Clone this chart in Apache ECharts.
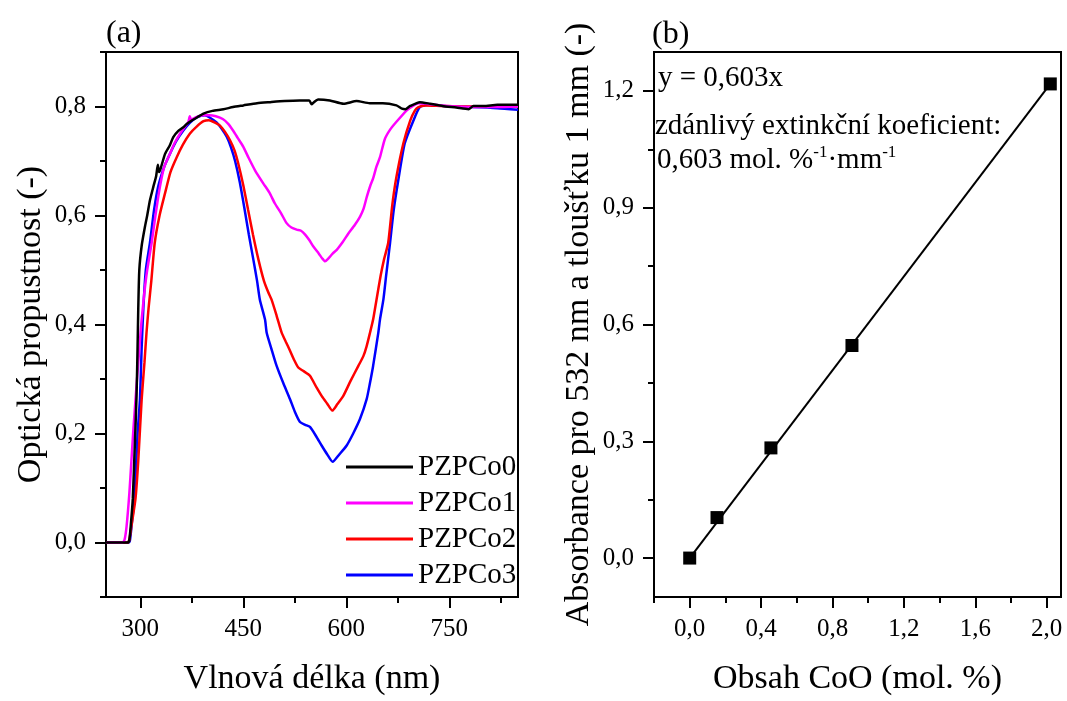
<!DOCTYPE html>
<html><head><meta charset="utf-8">
<script src="https://cdn.jsdelivr.net/npm/echarts@6/dist/echarts.min.js"></script>
<style>html,body{margin:0;padding:0;background:#fff}#c{width:1067px;height:701px}</style>
</head><body><div id="c"></div>
<script>
// ---------- data: panel (a) ----------
const seriesNames = ['PZPCo0', 'PZPCo1', 'PZPCo2', 'PZPCo3'];
const seriesColors = ['#000000', '#ff00ff', '#ff0000', '#0000ff'];

const pzpco0 = [[250,0],[282,0],[284,0.005],[286,0.03],[289,0.08],[292,0.18],[294.5,0.27],[296,0.36],[297,0.43],[298.5,0.50],[302,0.545],[306.8,0.58],[310,0.60],[314,0.628],[319,0.653],[323,0.672],[325.5,0.693],[327,0.68],[329,0.684],[336,0.713],[343,0.729],[348,0.744],[355,0.755],[362.6,0.762],[367.5,0.768],[380,0.778],[392,0.787],[405,0.792],[421,0.795],[435,0.799],[450,0.802],[470,0.806],[489,0.808],[510,0.81],[532,0.811],[546,0.811],[549.5,0.804],[552,0.807],[559,0.813],[576,0.811],[596,0.805],[615,0.81],[634,0.806],[653,0.806],[673,0.802],[681,0.796],[686,0.795],[693,0.801],[707,0.808],[722,0.805],[740,0.801],[760,0.798],[778,0.795],[785,0.801],[800,0.801],[820,0.803],[850,0.803]];

const pzpco1 = [[250,0],[274,0],[277,0.005],[280,0.03],[284,0.09],[287,0.15],[290,0.21],[294,0.28],[297,0.33],[300,0.38],[302,0.41],[306,0.46],[310,0.50],[316.5,0.55],[322,0.60],[328.6,0.653],[335,0.69],[343,0.713],[350,0.733],[357.8,0.75],[365,0.763],[370,0.772],[372,0.782],[374,0.776],[382,0.781],[392,0.784],[401,0.784],[410,0.782],[420,0.777],[428,0.768],[435,0.756],[442,0.742],[450,0.726],[458,0.705],[467,0.683],[479,0.659],[488,0.642],[496,0.622],[505,0.604],[513,0.586],[520,0.578],[527.7,0.574],[534,0.572],[540,0.565],[546,0.555],[552,0.543],[560,0.53],[565,0.521],[569,0.516],[573,0.52],[580,0.53],[586,0.537],[595,0.552],[603,0.567],[612,0.582],[620,0.598],[625,0.612],[630,0.635],[635,0.655],[639,0.668],[644,0.69],[649,0.707],[656,0.74],[664,0.758],[673,0.772],[688,0.793],[697,0.801],[705,0.806],[716,0.805],[736,0.802],[760,0.80],[785,0.799],[820,0.799],[850,0.80]];

const pzpco2 = [[250,0],[282,0],[284,0.005],[287,0.03],[293,0.081],[297,0.15],[302,0.264],[306,0.33],[309,0.385],[312,0.43],[316,0.48],[321,0.55],[328,0.60],[336,0.641],[344,0.68],[353,0.707],[362,0.73],[372,0.75],[382,0.763],[392,0.773],[400,0.775],[408,0.771],[416,0.765],[424,0.752],[430.6,0.738],[437,0.72],[442.7,0.695],[450,0.655],[457,0.61],[464,0.565],[472,0.519],[480,0.48],[486,0.46],[491,0.446],[498.5,0.416],[505.8,0.385],[512,0.368],[518,0.352],[524,0.335],[530,0.321],[537,0.315],[547,0.306],[556.8,0.284],[564,0.269],[572,0.255],[579.6,0.242],[587,0.254],[595.6,0.269],[606,0.296],[617.5,0.324],[624.8,0.342],[629.5,0.36],[634.5,0.385],[639,0.409],[644,0.446],[650,0.49],[655,0.52],[661,0.55],[667,0.62],[673,0.671],[683,0.732],[693,0.774],[700,0.793],[705,0.799],[715,0.802],[740,0.801],[780,0.80],[820,0.80],[850,0.80]];

const pzpco3 = [[250,0],[283,0],[285,0.005],[288,0.04],[291.5,0.081],[296,0.2],[299.5,0.264],[302,0.36],[304.4,0.43],[308,0.50],[314,0.55],[320,0.61],[326,0.653],[335,0.69],[343,0.713],[352,0.736],[362.6,0.756],[372,0.77],[382,0.78],[394,0.784],[402,0.779],[411,0.771],[418,0.76],[426,0.744],[432,0.725],[438,0.70],[445,0.66],[452,0.61],[458,0.565],[464.6,0.519],[470,0.48],[474,0.446],[481.6,0.409],[484,0.385],[491,0.355],[498.5,0.324],[508,0.293],[518,0.263],[525,0.24],[532.5,0.221],[540,0.216],[547,0.212],[556,0.195],[564,0.178],[572,0.162],[580,0.148],[590,0.162],[600.5,0.178],[610,0.2],[620,0.227],[629.6,0.263],[634,0.29],[639,0.324],[646.6,0.385],[649,0.409],[654,0.446],[658,0.49],[663.6,0.549],[669,0.61],[675.7,0.665],[685,0.732],[697.6,0.774],[707,0.799],[720,0.803],[750,0.80],[780,0.799],[820,0.797],[850,0.794]];

// ---------- data: panel (b) ----------
const cooContent = [0, 0.153, 0.455, 0.909, 2.02];
const absorbance = [0, 0.104, 0.283, 0.546, 1.218];
const fitLineX = [0, 2.02];
const fitLineY = [0, 1.218];

// ---------- axis ticks & texts ----------
const aXMajor = [300, 450, 600, 750];
const aXMinor = [375, 525, 675, 825];
const aYMajor = [0, 0.2, 0.4, 0.6, 0.8];
const aYMinor = [-0.1, 0.1, 0.3, 0.5, 0.7, 0.9];
const bXMajor = [0, 0.4, 0.8, 1.2, 1.6, 2.0];
const bXMinor = [-0.2, 0.2, 0.6, 1.0, 1.4, 1.8];
const bYMajor = [0, 0.3, 0.6, 0.9, 1.2];
const bYMinor = [0.15, 0.45, 0.75, 1.05];

const aXName = 'Vlnová délka (nm)';
const aYName = 'Optická propustnost (-)';
const bXName = 'Obsah CoO (mol. %)';
const bYName = 'Absorbance pro 532 nm a tloušťku 1 mm (-)';
const eqText = 'y = 0,603x';
const coefLabel = 'zdánlivý extinkční koeficient:';
const coefValue = '0,603 mol. %';

const FONT = 'Liberation Serif';
const fmtComma = v => Number(v).toFixed(1).replace('.', ',');
const fmtInt = v => String(Math.round(v));

function majorAxis(gridIndex, min, max, ticks, fmt, name, nameGap, pos) {
  return {
    type: 'value', gridIndex, min, max, position: pos,
    name, nameLocation: 'middle', nameGap,
    nameTextStyle: { fontFamily: FONT, fontSize: 34, color: '#000' },
    axisLine: { show: true, onZero: false, lineStyle: { color: '#000', width: 2 } },
    axisTick: { show: true, inside: false, length: 11, lineStyle: { color: '#000', width: 2 }, customValues: ticks },
    axisLabel: { show: true, margin: 20, fontFamily: FONT, fontSize: 25, color: '#000', customValues: ticks, formatter: fmt },
    splitLine: { show: false }
  };
}
function minorAxis(gridIndex, min, max, ticks, pos) {
  return {
    type: 'value', gridIndex, min, max, position: pos,
    axisLine: { show: false, onZero: false },
    axisTick: { show: true, inside: false, length: 6, lineStyle: { color: '#000', width: 2 }, customValues: ticks },
    axisLabel: { show: false },
    splitLine: { show: false }
  };
}

const chart = echarts.init(document.getElementById('c'), null, { renderer: 'canvas' });
const spectra = [pzpco0, pzpco1, pzpco2, pzpco3];

const option = {
  animation: false,
  backgroundColor: '#fff',
  grid: [
    { left: 106, top: 52, width: 412, height: 547, show: true, borderColor: '#000', borderWidth: 2 },
    { left: 654, top: 52, width: 407, height: 548, show: true, borderColor: '#000', borderWidth: 2 }
  ],
  xAxis: [
    majorAxis(0, 250, 850, aXMajor, fmtInt, aXName, 65, 'bottom'),
    minorAxis(0, 250, 850, aXMinor, 'bottom'),
    majorAxis(1, -0.2, 2.08, bXMajor, fmtComma, bXName, 65, 'bottom'),
    minorAxis(1, -0.2, 2.08, bXMinor, 'bottom')
  ],
  yAxis: [
    majorAxis(0, -0.1, 0.9, aYMajor, fmtComma, aYName, 58, 'left'),
    minorAxis(0, -0.1, 0.9, aYMinor, 'left'),
    majorAxis(1, -0.1, 1.3, bYMajor, fmtComma, bYName, 58, 'left'),
    minorAxis(1, -0.1, 1.3, bYMinor, 'left')
  ],
  legend: {
    data: seriesNames.map(n => ({ name: n, icon: 'rect' })),
    orient: 'vertical',
    left: 341, top: 447,
    itemWidth: 67, itemHeight: 3, itemGap: 6,
    textStyle: { fontFamily: FONT, fontSize: 29, color: '#000', lineHeight: 30 }
  },
  series: [
    ...seriesNames.map((n, i) => ({
      name: n, type: 'line', xAxisIndex: 0, yAxisIndex: 0,
      data: spectra[i], symbol: 'none', showSymbol: false, smooth: 0.2,
      lineStyle: { color: seriesColors[i], width: 2.5 },
      itemStyle: { color: seriesColors[i] },
      z: 10 - i
    })),
    {
      type: 'line', xAxisIndex: 2, yAxisIndex: 2,
      data: fitLineX.map((x, i) => [x, fitLineY[i]]),
      symbol: 'none', lineStyle: { color: '#000', width: 2 }, z: 2
    },
    {
      type: 'scatter', xAxisIndex: 2, yAxisIndex: 2,
      data: cooContent.map((x, i) => [x, absorbance[i]]),
      symbol: 'rect', symbolSize: 13, itemStyle: { color: '#000', opacity: 1 }, z: 5
    }
  ],
  graphic: [
    { type: 'text', left: 106, top: 18, style: { text: '(a)', font: '32px "Liberation Serif"', fill: '#000' } },
    { type: 'text', left: 652, top: 19, style: { text: '(b)', font: '32px "Liberation Serif"', fill: '#000' } },
    { type: 'text', left: 658, top: 64, style: { text: eqText, font: '29px "Liberation Serif"', fill: '#000' } },
    { type: 'text', left: 655, top: 112, style: { text: coefLabel, font: '29px "Liberation Serif"', fill: '#000' } },
    { type: 'text', left: 657, top: 144, style: {
        text: '{a|' + coefValue + '}{s|-1}{a|·mm}{s|-1}',
        rich: {
          a: { fontFamily: FONT, fontSize: 29, fill: '#000', lineHeight: 32 },
          s: { fontFamily: FONT, fontSize: 17, fill: '#000', verticalAlign: 'top', lineHeight: 32 }
        }
      } }
  ]
};
chart.setOption(option);
</script>
</body></html>
